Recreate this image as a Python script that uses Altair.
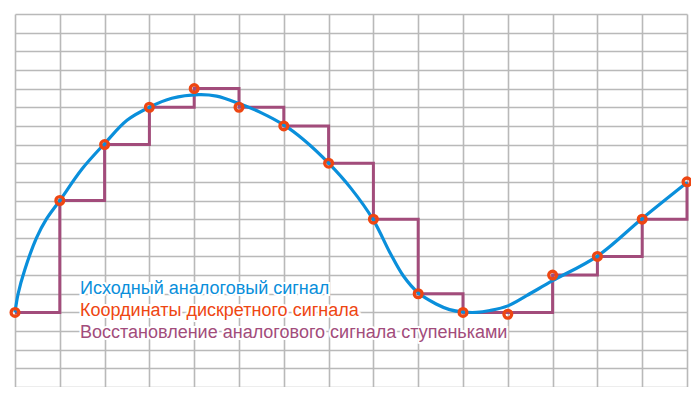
import altair as alt
import pandas as pd

# Grid lines
x_grid = list(range(16))
y_grid = list(range(21))

# Original analog signal
curve_x = [0, 0.07, 0.22, 0.48, 0.7, 1.0, 1.5, 2.0, 2.5, 3.0, 3.5, 4.1, 4.5, 5.0, 5.5, 6.0, 6.45,
           7.0, 7.5, 8.0, 8.37, 8.67, 9.0, 9.4, 9.7, 10.0, 10.3, 10.6, 11.0, 11.42, 12.0, 13.0, 14.0, 15.0]
curve_y = [4, 5.0, 6.3, 8.0, 9.0, 10.0, 11.7, 13.05, 14.3, 15.0, 15.48, 15.68, 15.6, 15.2, 14.7, 14.05, 13.24,
           12.0, 10.65, 8.95, 7.2, 5.95, 5.05, 4.45, 4.15, 4.02, 4.0, 4.1, 4.35, 4.9, 5.7, 7.02, 9.04, 10.97]

# Discrete sample coordinates
sample_x = list(range(16))
sample_y = [4, 10, 13, 15, 16, 15, 14, 12, 9, 5, 4, 3.9, 6, 7, 9, 11]

# Step reconstruction levels
step_y = [4, 10, 13, 15, 16, 15, 14, 12, 9, 5, 4, 4, 6, 7, 9, 11]

labels = ["Исходный аналоговый сигнал",
          "Координаты дискретного сигнала",
          "Восстановление аналогового сигнала ступеньками"]
colors = ["#0a8fdb", "#ee4612", "#a24c7b"]

curve_df = pd.DataFrame({"x": curve_x, "y": curve_y})
sample_df = pd.DataFrame({"x": sample_x, "y": sample_y})
step_df = pd.DataFrame({"x": sample_x, "y": step_y})

xs = alt.Scale(domain=[0, 15], nice=False, zero=False)
ys = alt.Scale(domain=[0, 20], nice=False, zero=False)

grid_axis_x = alt.Axis(values=x_grid, grid=True, labels=False, ticks=False, domain=False,
                       title=None, gridColor="#b9b9b9", gridWidth=1.6, gridOpacity=1)
grid_axis_y = alt.Axis(values=y_grid, grid=True, labels=False, ticks=False, domain=False,
                       title=None, gridColor="#b9b9b9", gridWidth=1.6, gridOpacity=1)

X = alt.X("x:Q", scale=xs, axis=grid_axis_x)
Y = alt.Y("y:Q", scale=ys, axis=grid_axis_y)

step = alt.Chart(step_df).mark_line(interpolate="step-after", color=colors[2], strokeWidth=3).encode(x=X, y=Y)

curve = alt.Chart(curve_df).mark_line(interpolate="catmull-rom", color=colors[0], strokeWidth=3.2).encode(x=X, y=Y)

points = alt.Chart(sample_df).mark_point(shape="circle", filled=False, color=colors[1],
                                         strokeWidth=3.3, size=60, opacity=1).encode(x=X, y=Y)

text_layers = []
for i, (lab, col) in enumerate(zip(labels, colors)):
    base = alt.Chart(pd.DataFrame({"t": [lab]}))
    ypix = 280 + 22 * i
    halo = base.mark_text(align="left", baseline="alphabetic", font="Liberation Sans", fontSize=18,
                          stroke="white", strokeWidth=4, color="white").encode(
        x=alt.value(65), y=alt.value(ypix), text="t:N")
    txt = base.mark_text(align="left", baseline="alphabetic", font="Liberation Sans", fontSize=18,
                         color=col).encode(
        x=alt.value(65), y=alt.value(ypix), text="t:N")
    text_layers += [halo, txt]

chart = alt.layer(step, curve, points, *text_layers).properties(
    width=672, height=373,
    autosize=alt.AutoSizeParams(type="none"),
    padding={"left": 7, "top": 6, "right": 4, "bottom": 0},
    background="white",
).configure_view(stroke=None)

chart.save("out.html", embed_options={"renderer": "svg", "actions": False})
